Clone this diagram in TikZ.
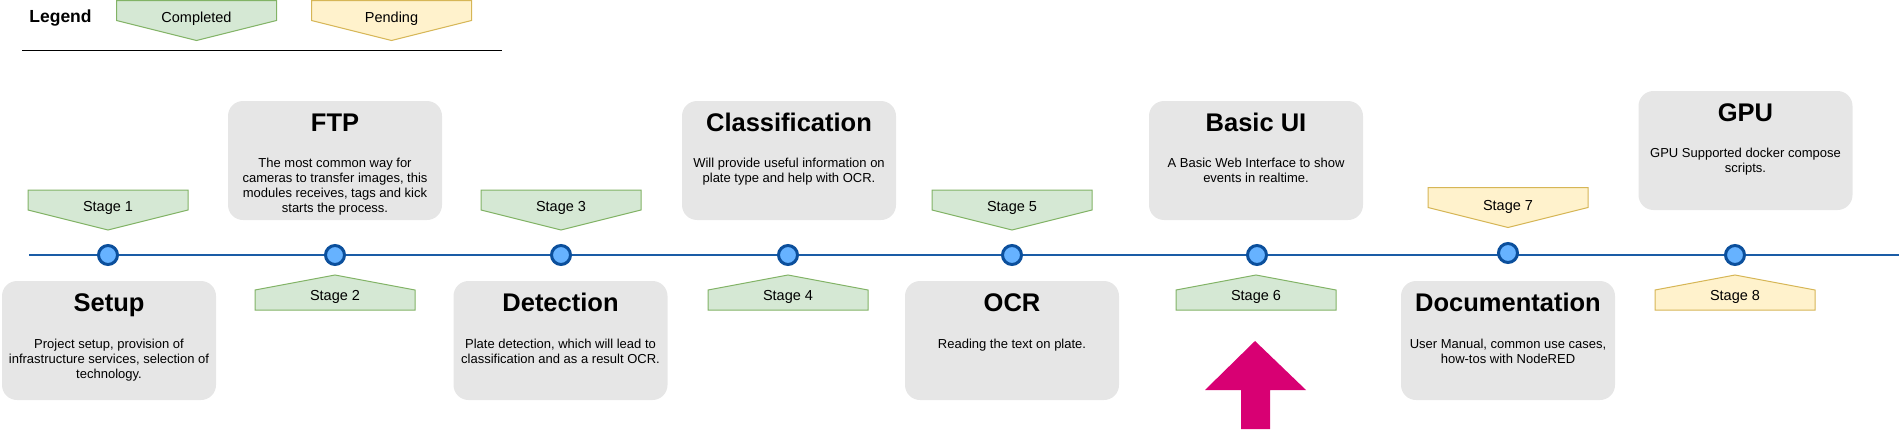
\documentclass[tikz,border=0pt]{standalone}
\usepackage{fontspec}
\setmainfont{Liberation Sans}
\definecolor{gfill}{HTML}{D5E8D4}
\definecolor{gdraw}{HTML}{82B366}
\definecolor{yfill}{HTML}{FFF2CC}
\definecolor{ydraw}{HTML}{D6B656}
\definecolor{boxfill}{HTML}{E6E6E6}
\definecolor{dotfill}{HTML}{66B2FF}
\definecolor{dotdraw}{HTML}{0B4F9C}
\definecolor{linecol}{HTML}{1A5CA6}
\definecolor{pinkarrow}{HTML}{D80073}
\begin{document}
\begin{tikzpicture}[x=1pt,y=-1pt,
  done/.style={fill=gfill,draw=gdraw},
  todo/.style={fill=yfill,draw=ydraw},
  tagdown/.pic={\path[pic actions,line width=1pt] (-80,0) -- (80,0) -- (80,20) -- (0,40) -- (-80,20) -- cycle;},
  tagup/.pic={\path[pic actions,line width=1pt] (0,0) -- (80,15) -- (80,35) -- (-80,35) -- (-80,15) -- cycle;},
  tagtext/.style={font=\fontsize{14.5}{17}\selectfont, anchor=base, inner sep=0pt},
  card/.style={fill=boxfill, rounded corners=15pt, minimum width=214pt, minimum height=119pt, inner sep=0pt},
  title/.style={font=\fontsize{25.5}{30}\selectfont\bfseries, anchor=base, inner sep=0pt},
  desc/.style={font=\fontsize{13}{15}\selectfont, align=center, anchor=north, inner sep=0pt},
  dot/.style={circle, fill=dotfill, draw=dotdraw, line width=3pt, minimum size=19pt, inner sep=0pt},
]
\useasboundingbox (0,0) rectangle (1901,431);

% Legend
\node[font=\fontsize{17.5}{20}\selectfont\bfseries, anchor=base, inner sep=0pt] (legend) at (60.5,22.3) {Legend};
\pic[done] at (196.5,0.5) {tagdown};
\node[tagtext] (lcompleted) at (196.5,22.2) {Completed};
\pic[todo] at (391.5,0.5) {tagdown};
\node[tagtext] (lpending) at (391.5,22.2) {Pending};
\coordinate (lgl) at (22,50);
\coordinate (lgr) at (502,50);
\draw[line width=1pt] (lgl) -- (lgr);

% Timeline
\coordinate (tls) at (29,255);
\coordinate (tle) at (1899,255);
\draw[linecol, line width=2pt] (tls) -- (tle);
\node[dot] (c1) at (108,255) {};
\node[dot] (c2) at (335,255) {};
\node[dot] (c3) at (561,255) {};
\node[dot] (c4) at (788,255) {};
\node[dot] (c5) at (1012,255) {};
\node[dot] (c6) at (1257,255) {};
\node[dot] (c7) at (1508,253) {};
\node[dot] (c8) at (1735,255) {};

% Stage tags
\pic[done] at (108,190) {tagdown};
\node[tagtext] (s1) at (108,211.2) {Stage 1};
\pic[done] at (335,275) {tagup};
\node[tagtext] (s2) at (335,300.2) {Stage 2};
\pic[done] at (561,190) {tagdown};
\node[tagtext] (s3) at (561,211.2) {Stage 3};
\pic[done] at (788,275) {tagup};
\node[tagtext] (s4) at (788,300.2) {Stage 4};
\pic[done] at (1012,190) {tagdown};
\node[tagtext] (s5) at (1012,211.2) {Stage 5};
\pic[done] at (1256,275) {tagup};
\node[tagtext] (s6) at (1256,300.2) {Stage 6};
\pic[todo] at (1508,187.5) {tagdown};
\node[tagtext] (s7) at (1508,210.2) {Stage 7};
\pic[todo] at (1735,275) {tagup};
\node[tagtext] (s8) at (1735,300.2) {Stage 8};

% Cards
\node[card] (setup) at (109,340.5) {};
\node[title] (setupT) at (109,311.1) {Setup};
\node[desc] (setupD) at (109,339.3) {Project setup, provision of\\infrastructure services, selection of\\technology.};

\node[card] (ftp) at (335,160.5) {};
\node[title] (ftpT) at (335,131.1) {FTP};
\node[desc] (ftpD) at (335,158.3) {The most common way for\\cameras to transfer images, this\\modules receives, tags and kick\\starts the process.};

\node[card] (det) at (560.5,340.5) {};
\node[title] (detT) at (560.5,311.1) {Detection};
\node[desc] (detD) at (560.5,339.3) {Plate detection, which will lead to\\classification and as a result OCR.};

\node[card] (cls) at (789,160.5) {};
\node[title] (clsT) at (789,131.1) {Classification};
\node[desc] (clsD) at (789,158.3) {Will provide useful information on\\plate type and help with OCR.};

\node[card] (ocr) at (1012,340.5) {};
\node[title] (ocrT) at (1012,311.1) {OCR};
\node[desc] (ocrD) at (1012,339.3) {Reading the text on plate.};

\node[card] (ui) at (1256,160.5) {};
\node[title] (uiT) at (1256,131.1) {Basic UI};
\node[desc] (uiD) at (1256,158.3) {A Basic Web Interface to show\\events in realtime.};

\node[card] (doc) at (1508,340.5) {};
\node[title] (docT) at (1508,311.1) {Documentation};
\node[desc] (docD) at (1508,339.3) {User Manual, common use cases,\\how-tos with NodeRED};

\node[card] (gpu) at (1745.5,150.5) {};
\node[title] (gpuT) at (1745.5,121.1) {GPU};
\node[desc] (gpuD) at (1745.5,148.3) {GPU Supported docker compose\\scripts.};

% Current-stage arrow
\fill[pinkarrow] (1255,341) -- (1306,390) -- (1270,390) -- (1270,429) -- (1241,429) -- (1241,390) -- (1205,390) -- cycle;
\end{tikzpicture}
\end{document}
